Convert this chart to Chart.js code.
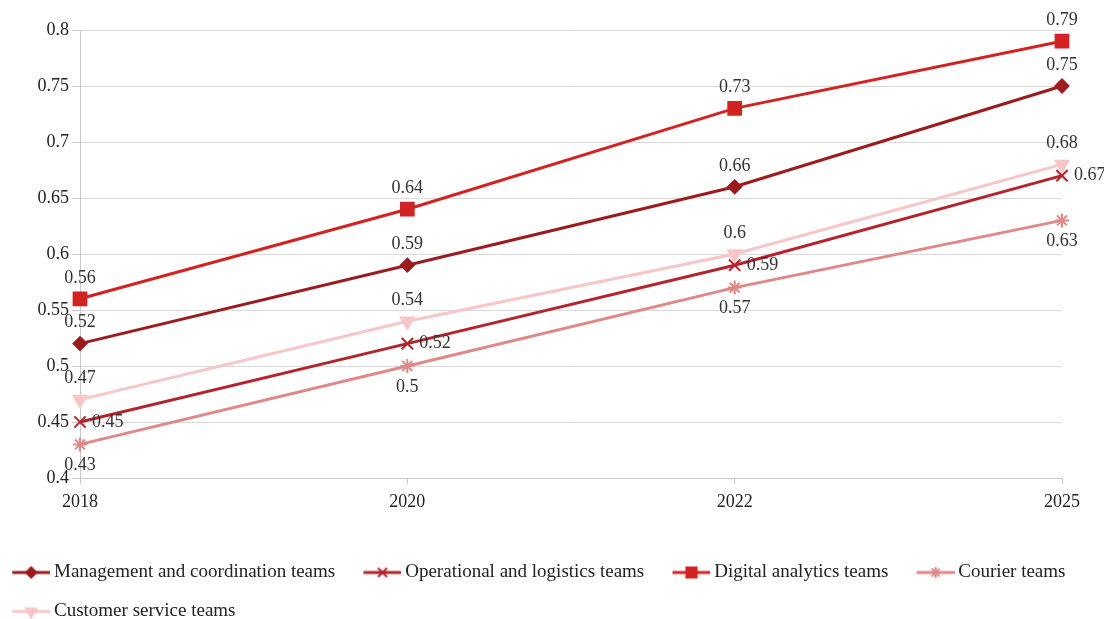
<!DOCTYPE html>
<html>
<head>
<meta charset="utf-8">
<script src="https://cdn.jsdelivr.net/npm/chart.js@4"></script>
<style>
  body { margin: 0; background: #fff; overflow: hidden; }
  canvas { display: block; }
</style>
</head>
<body>
<canvas id="chart" width="1104" height="631"></canvas>
<script>
// datos
const years = ["2018", "2020", "2022", "2025"];
const management = [0.52, 0.59, 0.66, 0.75];
const operational = [0.45, 0.52, 0.59, 0.67];
const digital = [0.56, 0.64, 0.73, 0.79];
const courier = [0.43, 0.50, 0.57, 0.63];
const customer = [0.47, 0.54, 0.60, 0.68];

const FONT = "'Liberation Serif', 'Times New Roman', serif";

// icono de leyenda: linea + marcador (con margen transparente a la izquierda)
function legendIcon(color, style, rotation, radius){
    const c = document.createElement('canvas');
    c.width = 52; c.height = 16;
    const ctx = c.getContext('2d');
    ctx.strokeStyle = color;
    ctx.fillStyle = color;
    ctx.lineWidth = 3;
    ctx.beginPath();
    ctx.moveTo(14, 8); ctx.lineTo(52, 8);
    ctx.stroke();
    ctx.lineWidth = 2;
    Chart.helpers.drawPoint(ctx, {
        pointStyle: style, radius: radius, rotation: rotation || 0, borderWidth: 2
    }, 33, 8);
    return c;
}

function serie(label, data, color, style, rotation, radius, labelPos){
    return {
        label: label,
        data: data,
        borderColor: color,
        backgroundColor: color,
        borderWidth: 3,
        pointStyle: style,
        pointRotation: rotation,
        pointRadius: radius,
        pointBorderWidth: 2,
        pointHoverRadius: radius,
        labelPos: labelPos,
        icon: legendIcon(color, style, rotation, radius * 0.8)
    };
}

// etiquetas de datos
const dataLabels = {
    id: 'dataLabels',
    afterDatasetsDraw(chart){
        const ctx = chart.ctx;
        ctx.save();
        ctx.font = "18px " + FONT;
        ctx.fillStyle = '#333';
        ctx.textBaseline = 'middle';
        chart.data.datasets.forEach((ds, i) => {
            const meta = chart.getDatasetMeta(i);
            meta.data.forEach((pt, j) => {
                const txt = String(ds.data[j]);
                let x = pt.x, y = pt.y;
                if (ds.labelPos === 'right') {
                    ctx.textAlign = 'left';
                    x += 12;
                } else if (ds.labelPos === 'below') {
                    ctx.textAlign = 'center';
                    y += 21;
                } else {
                    ctx.textAlign = 'center';
                    y -= 21;
                }
                ctx.fillText(txt, x, y);
            });
        });
        ctx.restore();
    }
};

// mover la leyenda un poco a la izquierda
const legendShift = {
    id: 'legendShift',
    afterLayout(chart){
        if (chart.legend) {
            chart.legend.left -= 16;
            chart.legend.right -= 16;
        }
    }
};

const datasets = [
    serie("Management and coordination teams", management, '#9b1b1e', 'rectRot', 0, 6.5, 'above'),
    serie("Operational and logistics teams", operational, '#b3242c', 'crossRot', 0, 8, 'right'),
    serie("Digital analytics teams", digital, '#d22323', 'rect', 0, 9, 'above'),
    serie("Courier teams", courier, '#e08888', 'star', 0, 7, 'below'),
    serie("Customer service teams", customer, '#f8c6c6', 'triangle', 180, 7.5, 'above')
];

new Chart(document.getElementById('chart'), {
    type: 'line',
    data: { labels: years, datasets: datasets },
    options: {
        responsive: false,
        animation: false,
        layout: { padding: { left: 0, right: 0, top: 30, bottom: 0 } },
        plugins: {
            tooltip: { enabled: false },
            legend: {
                position: 'bottom',
                align: 'start',
                labels: {
                    usePointStyle: true,
                    pointStyleWidth: 40.5,
                    padding: 20,
                    color: '#222',
                    font: { family: FONT, size: 19 },
                    generateLabels(chart){
                        return chart.data.datasets.map((ds, i) => ({
                            text: ds.label,
                            pointStyle: ds.icon,
                            datasetIndex: i,
                            fontColor: '#222',
                            lineWidth: 0,
                            strokeStyle: 'transparent',
                            fillStyle: 'transparent'
                        }));
                    }
                }
            }
        },
        scales: {
            x: {
                offset: false,
                grid: { drawOnChartArea: false, drawTicks: true, tickLength: 6, tickColor: '#c8c8c8' },
                border: { display: true, color: '#c8c8c8' },
                ticks: { color: '#222', font: { family: FONT, size: 18 }, padding: 7, maxRotation: 0 },
                afterFit(s){ s.height = 65; }
            },
            y: {
                min: 0.4,
                max: 0.8,
                ticks: {
                    stepSize: 0.05,
                    color: '#222',
                    font: { family: FONT, size: 18 },
                    padding: 3,
                    callback: v => String(Math.round(v * 100) / 100)
                },
                grid: { color: '#d9d9d9', tickLength: 8, tickColor: '#c8c8c8' },
                border: { display: true, color: '#c8c8c8' },
                afterFit(s){ s.width = 80; }
            },
            // eje vacio a la derecha solo para reservar espacio
            yRight: {
                position: 'right',
                min: 0.4,
                max: 0.8,
                grid: { drawOnChartArea: false, drawTicks: false },
                border: { display: false },
                ticks: { display: false },
                afterFit(s){ s.width = 42; }
            }
        }
    },
    plugins: [dataLabels, legendShift]
});
</script>
</body>
</html>
